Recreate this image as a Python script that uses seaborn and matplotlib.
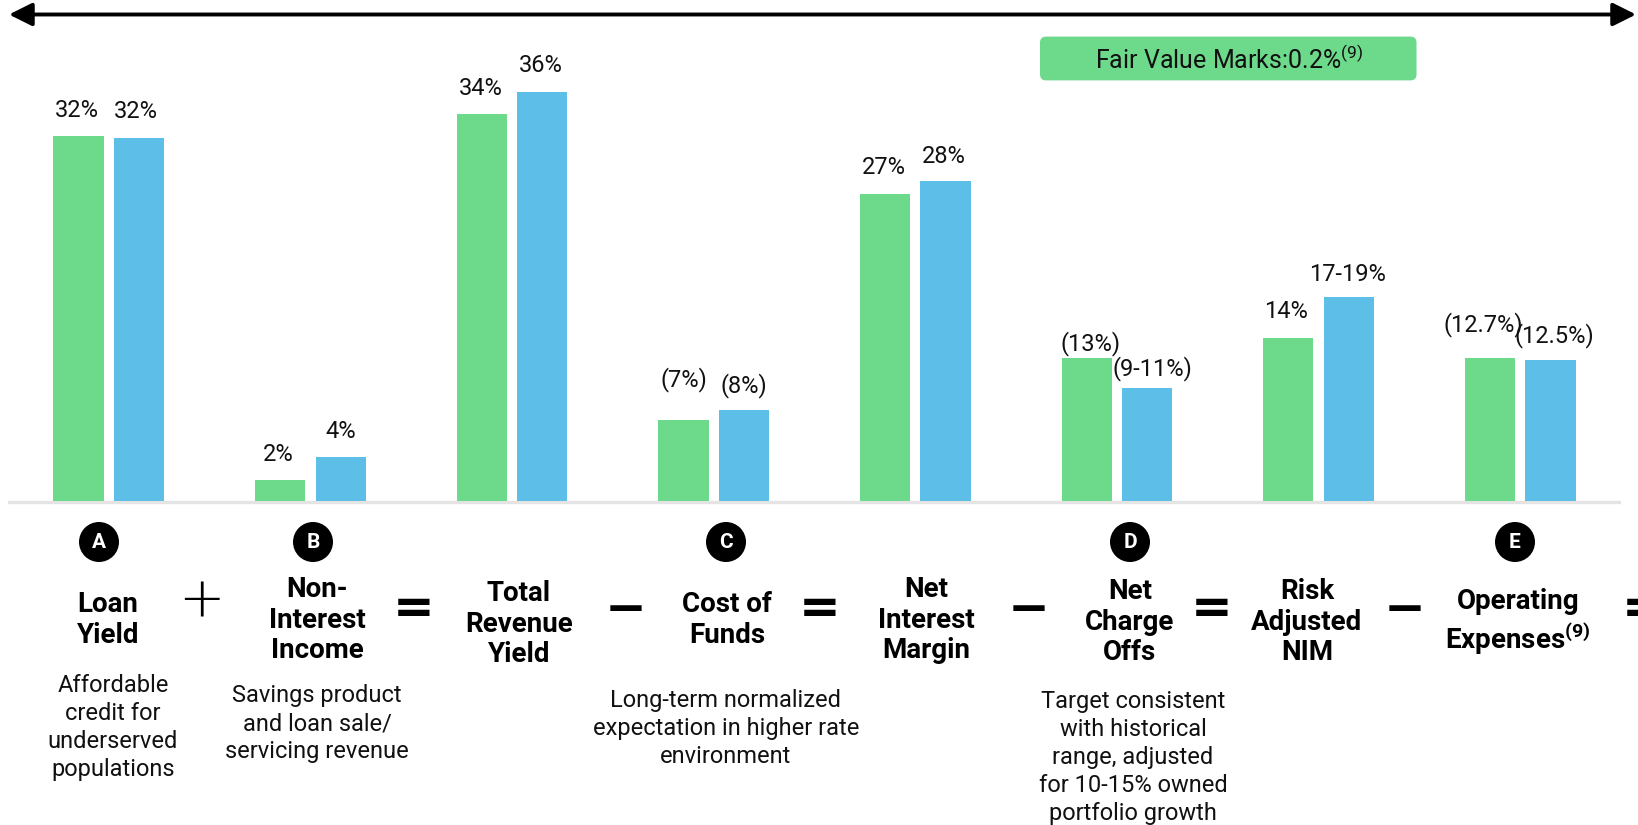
import matplotlib

matplotlib.use("Agg")
import matplotlib.pyplot as plt
import matplotlib.transforms as mtransforms
import pandas as pd
import seaborn as sns
from matplotlib.patches import Circle, FancyBboxPatch

W, H = 1638, 825
GREEN = "#6DD98B"
BLUE = "#5DBEE8"

# --- data -------------------------------------------------------------
categories = [
    "Loan Yield", "Non-Interest Income", "Total Revenue Yield", "Cost of Funds",
    "Net Interest Margin", "Net Charge Offs", "Risk Adjusted NIM", "Operating Expenses",
]
series = ["Current", "Long-term target"]
current_values = [32.1, 1.8, 34.0, 7.1, 27.0, 12.6, 14.3, 12.6]
target_values = [31.9, 3.9, 36.0, 8.0, 28.1, 9.9, 17.9, 12.4]
current_labels = ["32%", "2%", "34%", "(7%)", "27%", "(13%)", "14%", "(12.7%)"]
target_labels = ["32%", "4%", "36%", "(8%)", "28%", "(9-11%)", "17-19%", "(12.5%)"]

heading_text = [
    "Loan\nYield", "Non-\nInterest\nIncome", "Total\nRevenue\nYield", "Cost of\nFunds",
    "Net\nInterest\nMargin", "Net\nCharge\nOffs", "Risk\nAdjusted\nNIM",
    "Operating\nExpenses$^{\\mathbf{(9)}}$",
]
badge_letters = ["A", "B", "C", "D", "E"]
descriptions = [
    "Affordable\ncredit for\nunderserved\npopulations",
    "Savings product\nand loan sale/\nservicing revenue",
    "Long-term normalized\nexpectation in higher rate\nenvironment",
    "Target consistent\nwith historical\nrange, adjusted\nfor 10-15% owned\nportfolio growth",
]
operators = ["+", "=", "\u2212", "=", "\u2212", "=", "\u2212", "="]
fair_value_text = "Fair Value Marks:0.2%$^{(9)}$"

# --- layout (reference pixel coordinates) ------------------------------
cur_dx = [-2, -2, -1, 0, -1, 4, -2, -7]
cur_dy = [25, 26, 26, 41, 26, 14, 27, 33]
tgt_dx = [-3, 0, -1, 0, -2, 5, -1, 4]
tgt_dy = [27, 25, 26, 24, 25, 20, 23, 24]
heading_pos = [(108, 591), (317, 576), (519, 580), (727, 591),
               (926, 576), (1130, 578), (1307, 578), (1518, 588)]
badge_pos = [(99, 542), (313, 542), (726, 542), (1130, 542), (1515, 542)]
desc_pos = [(113, 674), (317, 684), (726, 689), (1133, 690)]
op_pos = [(201, 602), (414, 609), (626, 610), (820, 609),
          (1029, 610), (1212, 609), (1405, 610), (1643, 609)]

sns.set_theme(style="white")
plt.rcParams["font.family"] = ["Roboto", "DejaVu Sans"]
plt.rcParams["mathtext.fontset"] = "custom"
plt.rcParams["mathtext.rm"] = "Roboto"
plt.rcParams["mathtext.bf"] = "Roboto:bold"

df = pd.DataFrame({
    "metric": categories * 2,
    "series": [series[0]] * len(categories) + [series[1]] * len(categories),
    "value": current_values + target_values,
})

fig = plt.figure(figsize=(W / 100, H / 100), dpi=100)
ax = fig.add_axes([8 / W, 0, (1621 - 8) / W, 1])
sns.barplot(data=df, x="metric", y="value", hue="series", order=categories,
            hue_order=series, palette=[GREEN, BLUE], saturation=1, width=0.6,
            gap=0.17, legend=False, ax=ax, linewidth=0)
ax.set_xlim(-0.5, 7.5)
ax.set_ylim(-28.5, 44.06)
ax.axis("off")
ax.axhline(-0.1, color="#e4e4e4", lw=2.4, zorder=0)

# value labels above each bar
for cont, labels, dxs, dys in [(ax.containers[0], current_labels, cur_dx, cur_dy),
                               (ax.containers[1], target_labels, tgt_dx, tgt_dy)]:
    for bar, lab, dx, dy in zip(cont, labels, dxs, dys):
        ax.annotate(lab, (bar.get_x() + bar.get_width() / 2, bar.get_height()),
                    xytext=(dx, dy), textcoords="offset pixels", ha="center",
                    va="center", fontsize=17, color="#111111",
                    annotation_clip=False)

# reference-pixel transform (y downward)
px = mtransforms.Affine2D().scale(1 / W, -1 / H).translate(0, 1) + fig.transFigure

# top double arrow
ax.annotate("", xy=(1636, 14.5), xytext=(9, 14.5), xycoords=px, textcoords=px,
            arrowprops=dict(arrowstyle="<|-|>,head_length=0.7,head_width=0.35",
                            lw=2.8, color="black", shrinkA=0, shrinkB=0,
                            mutation_scale=20),
            annotation_clip=False)

# fair value box
box = FancyBboxPatch((1040, 36.6), 376.5, 43.8, boxstyle="round,pad=0,rounding_size=6",
                     transform=px, facecolor=GREEN, edgecolor="none")
fig.add_artist(box)
fig.text(1229 / W, 1 - 60 / H, fair_value_text, ha="center", va="center",
         fontsize=18, color="#111111")

# badges
for (x, y), letter in zip(badge_pos, badge_letters):
    fig.add_artist(Circle((x, y), 20, transform=px, facecolor="black", edgecolor="none"))
    fig.text(x / W, 1 - (y + 1) / H, letter, ha="center", va="center", color="white",
             fontsize=15, fontweight="bold")

# headings
for (x, y), txt in zip(heading_pos, heading_text):
    fig.text(x / W, 1 - y / H, txt, ha="center", va="top", fontsize=20,
             fontweight="bold", linespacing=1.17, color="black")

# descriptions
for (x, y), txt in zip(desc_pos, descriptions):
    fig.text(x / W, 1 - y / H, txt, ha="center", va="top", fontsize=17,
             linespacing=1.28, color="#111111")

# operators between terms
for (x, y), op in zip(op_pos, operators):
    if op == "+":
        fig.text(x / W, 1 - y / H, op, ha="center", va="center", fontsize=40,
                 family="DejaVu Sans", fontweight="ultralight", color="black")
    else:
        fig.text(x / W, 1 - y / H, op, ha="center", va="center", fontsize=36,
                 family="DejaVu Sans", fontweight="bold", color="black")

fig.savefig("out.png", dpi=100)
